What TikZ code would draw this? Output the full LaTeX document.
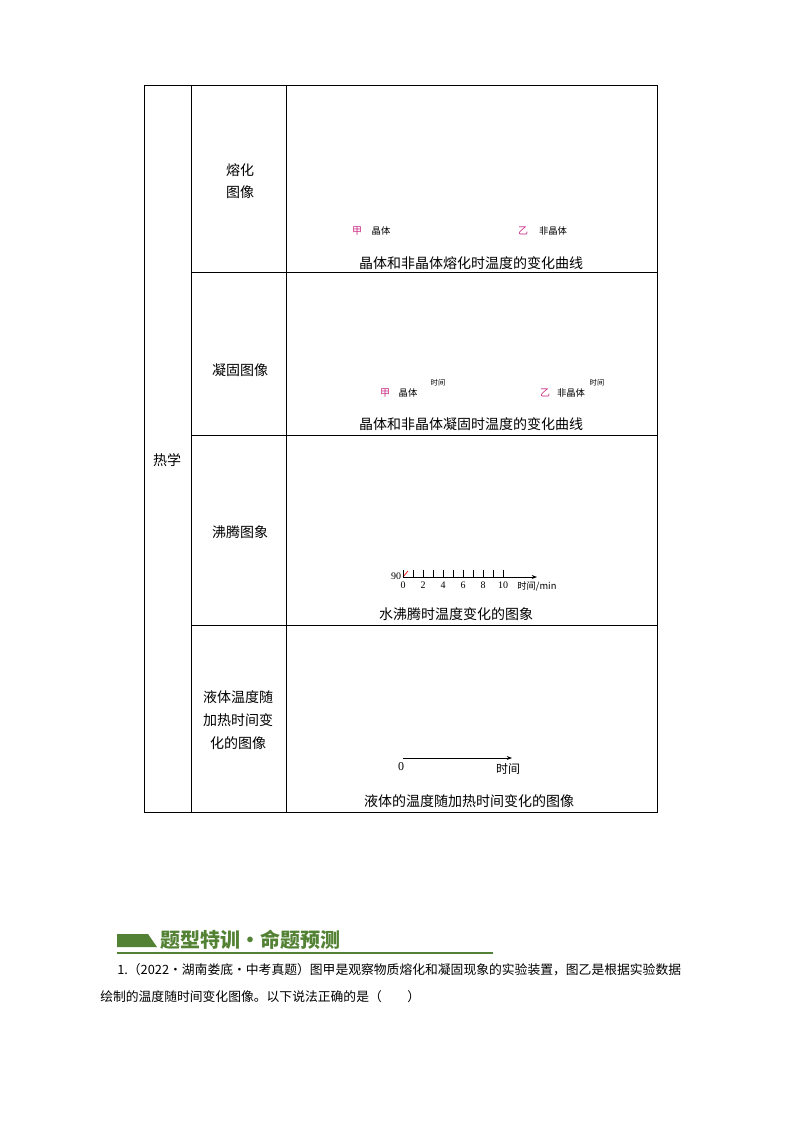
\documentclass[tikz,border=0pt]{standalone}
\usepackage{fontspec}
\setmainfont{Liberation Serif}
\newfontfamily\cjk{Noto Sans CJK SC}
\usetikzlibrary{arrows.meta}
\definecolor{headgreen}{RGB}{84,130,53}
\definecolor{tagpink}{RGB}{200,40,130}
\begin{document}
\begin{tikzpicture}[
  x=0.75pt, y=-0.75pt,
  txt/.style={font=\cjk\fontsize{10.5}{17}\selectfont, align=center, inner sep=0pt},
  qtxt/.style={font=\cjk\fontsize{9.6}{12}\selectfont, inner sep=0pt, anchor=west},
  small/.style={font=\cjk\fontsize{7}{8}\selectfont, inner sep=0pt},
  tiny/.style={font=\cjk\fontsize{5.5}{6}\selectfont, inner sep=0pt},
  tag/.style={font=\cjk\fontsize{7.5}{8}\selectfont, text=tagpink, inner sep=0pt},
  grid/.style={line width=0.6pt},
  axis/.style={-{Stealth[length=4pt]}, line width=0.5pt}
]
\useasboundingbox (0,0) rectangle (800,1132);

% Table frame
\draw[grid] (144,85) rectangle (657,812);
\draw[grid] (191,85) -- (191,812);
\draw[grid] (286,85) -- (286,812);
\foreach \yy in {272,435,625}
  \draw[grid] (191,\yy) -- (657,\yy);

% Left cells
\node[txt] (topic) at (167,460) {热学};
\node[txt] (melt) at (240,181) {熔化\\图像};
\node[txt] (solid) at (240,370) {凝固图像};
\node[txt] (boil) at (240,532) {沸腾图象};
\node[txt] (liquid) at (238,720) {液体温度随\\加热时间变\\化的图像};

% Row 1
\node[tag] (jia1) at (357,231) {甲};
\node[small] (cry1) at (381,231) {晶体};
\node[tag] (yi1) at (523,231) {乙};
\node[small] (ncry1) at (553,231) {非晶体};
\node[txt] (cap1) at (471,263) {晶体和非晶体熔化时温度的变化曲线};

% Row 2
\node[tag] (jia2) at (385,393) {甲};
\node[small] (cry2) at (408,393) {晶体};
\node[tiny] (t2a) at (438,383) {时间};
\node[tag] (yi2) at (545,393) {乙};
\node[small] (ncry2) at (571,393) {非晶体};
\node[tiny] (t2b) at (597,383) {时间};
\node[txt] (cap2) at (471,424) {晶体和非晶体凝固时温度的变化曲线};

% Row 3
\coordinate (o3) at (403,577);
\coordinate (e3) at (537,577);
\draw[axis] (o3) -- (e3);
\draw[red, line width=0.5pt] (o3) -- ++(5,-6);
\foreach \i in {0,...,10}
  \draw[line width=0.5pt] (403+\i*10,577) -- ++(0,-7);
\foreach \v [count=\k from 0] in {0,2,4,6,8,10}
  \node[small, font=\fontsize{7.5}{8}\selectfont] (n\k) at (403+\k*20,585) {\v};
\node[small, font=\fontsize{7.5}{8}\selectfont] (ninety) at (396,576) {90};
\node[small, anchor=west] (tmin) at (517,586) {时间\fontsize{7}{8}\selectfont/min};
\node[txt] (cap3) at (456,614) {水沸腾时温度变化的图象};

% Row 4
\coordinate (o4) at (403,758);
\coordinate (e4) at (512,758);
\draw[axis] (o4) -- (e4);
\node[small, font=\fontsize{9}{10}\selectfont] (zero4) at (401,767) {0};
\node[small, font=\cjk\fontsize{9}{10}\selectfont] (t4) at (508,769) {时间};
\node[txt] (cap4) at (469,801) {液体的温度随加热时间变化的图像};

% Section header
\fill[headgreen] (117,934) -- (148,934) -- (157,947) -- (117,947) -- cycle;
\node[font=\cjk\bfseries\fontsize{15}{16}\selectfont, text=headgreen, anchor=west, inner sep=0pt] (head) at (160,940) {题型特训·命题预测};
\draw[headgreen, line width=1pt] (117,953) -- (493,953);

% Question
\node[qtxt] (q1) at (117,970) {1.（2022·湖南娄底·中考真题）图甲是观察物质熔化和凝固现象的实验装置，图乙是根据实验数据};
\node[qtxt] (q2) at (100,997) {绘制的温度随时间变化图像。以下说法正确的是（\quad\quad）};
\end{tikzpicture}
\end{document}
